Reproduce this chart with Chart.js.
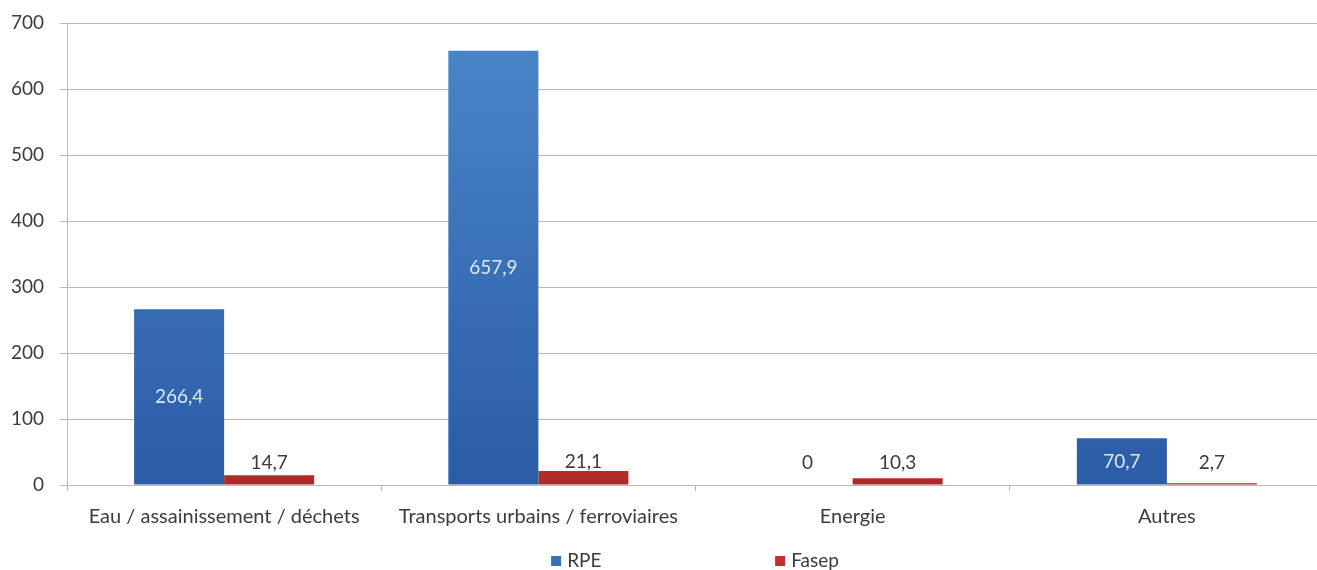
<!DOCTYPE html>
<html>
<head>
<meta charset="utf-8">
<script src="https://cdn.jsdelivr.net/npm/chart.js@4/dist/chart.umd.min.js"></script>
<style>
  html, body { margin: 0; padding: 0; background: #fff; overflow: hidden; }
  #wrap { position: relative; width: 1324px; height: 570px; }
</style>
</head>
<body>
<div id="wrap"><canvas id="c"></canvas></div>
<script>
// Secteurs et montants (M€)
const categories = ['Eau / assainissement / déchets', 'Transports urbains / ferroviaires', 'Energie', 'Autres'];
const rpeValues = [266.4, 657.9, 0, 70.7];
const fasepValues = [14.7, 21.1, 10.3, 2.7];
const seriesNames = ['RPE', 'Fasep'];
const yTicks = [0, 100, 200, 300, 400, 500, 600, 700];

const FONT = 'Lato, "Open Sans", sans-serif';
const TEXT = '#3c3c3c';
const GRID = '#b8b8b8';

function fmt(v) { return String(v).replace('.', ','); }

function blueFill(ctx) {
  const area = ctx.chart.chartArea;
  if (!area) return '#3b74bd';
  const g = ctx.chart.ctx.createLinearGradient(0, area.top, 0, area.bottom);
  g.addColorStop(0, '#4a87ca');
  g.addColorStop(1, '#2b5ca6');
  return g;
}
function redFill(ctx) {
  const area = ctx.chart.chartArea;
  if (!area) return '#c0302e';
  const g = ctx.chart.ctx.createLinearGradient(0, area.bottom - 40, 0, area.bottom);
  g.addColorStop(0, '#cc3632');
  g.addColorStop(1, '#a92a28');
  return g;
}

// Étiquettes de valeurs : au centre des barres RPE, au-dessus des barres Fasep
const valueLabels = {
  id: 'valueLabels',
  afterDatasetsDraw(chart) {
    const ctx = chart.ctx;
    const y = chart.scales.y;
    const zeroY = y.getPixelForValue(0);
    ctx.save();
    ctx.font = '19px ' + FONT;
    ctx.textAlign = 'center';
    ctx.textBaseline = 'middle';
    chart.data.datasets.forEach((ds, di) => {
      const meta = chart.getDatasetMeta(di);
      meta.data.forEach((bar, i) => {
        const v = ds.data[i];
        const above = Math.min(bar.y - 9, zeroY - 22);
        if (di === 0 && v > 0) {
          ctx.fillStyle = '#dde7f3';
          ctx.fillText(fmt(v), bar.x, (bar.y + bar.base) / 2);
        } else {
          ctx.fillStyle = TEXT;
          ctx.fillText(fmt(v), bar.x, above);
        }
      });
    });
    ctx.restore();
  }
};

// Légende en bas, entrées régulièrement espacées
const bottomLegend = {
  id: 'bottomLegend',
  afterDraw(chart) {
    const ctx = chart.ctx;
    const area = chart.chartArea;
    const step = 224;
    ctx.save();
    ctx.font = '19px ' + FONT;
    ctx.textBaseline = 'middle';
    const lastW = 17 + ctx.measureText(seriesNames[seriesNames.length - 1]).width;
    const total = step * (seriesNames.length - 1) + lastW;
    let x = (area.left + area.right) / 2 - total / 2;
    const yc = 561;
    const colors = ['#3a70b8', '#c0302e'];
    seriesNames.forEach((name, i) => {
      ctx.fillStyle = colors[i];
      ctx.fillRect(x, yc - 5, 10, 10);
      ctx.fillStyle = TEXT;
      ctx.fillText(name, x + 16, yc);
      x += step;
    });
    ctx.restore();
  }
};

new Chart(document.getElementById('c'), {
  type: 'bar',
  data: {
    labels: categories,
    datasets: [
      { label: seriesNames[0], data: rpeValues, backgroundColor: blueFill, borderWidth: 0 },
      { label: seriesNames[1], data: fasepValues, backgroundColor: redFill, borderWidth: 0 }
    ]
  },
  options: {
    responsive: true,
    maintainAspectRatio: false,
    animation: false,
    categoryPercentage: 0.573,
    barPercentage: 1.0,
    layout: { padding: { top: 0, left: 0, right: 0, bottom: 27 } },
    plugins: {
      legend: { display: false },
      tooltip: { enabled: false }
    },
    scales: {
      x: {
        offset: true,
        grid: { display: true, drawOnChartArea: false, drawTicks: true, tickLength: 6, color: GRID, offset: true },
        border: { display: true, color: GRID, width: 1 },
        ticks: { color: TEXT, font: { family: FONT, size: 20 }, padding: 14, maxRotation: 0, autoSkip: false }
      },
      y: {
        min: 0,
        max: 700,
        afterBuildTicks(scale) { scale.ticks = yTicks.map(v => ({ value: v })); },
        afterFit(scale) { scale.width = 67; scale.paddingTop = 23; },
        grid: { color: GRID, lineWidth: 1, tickLength: 7 },
        border: { display: true, color: GRID, width: 1 },
        ticks: { color: TEXT, font: { family: FONT, size: 19 }, padding: 16 }
      }
    }
  },
  plugins: [valueLabels, bottomLegend]
});
</script>
</body>
</html>
